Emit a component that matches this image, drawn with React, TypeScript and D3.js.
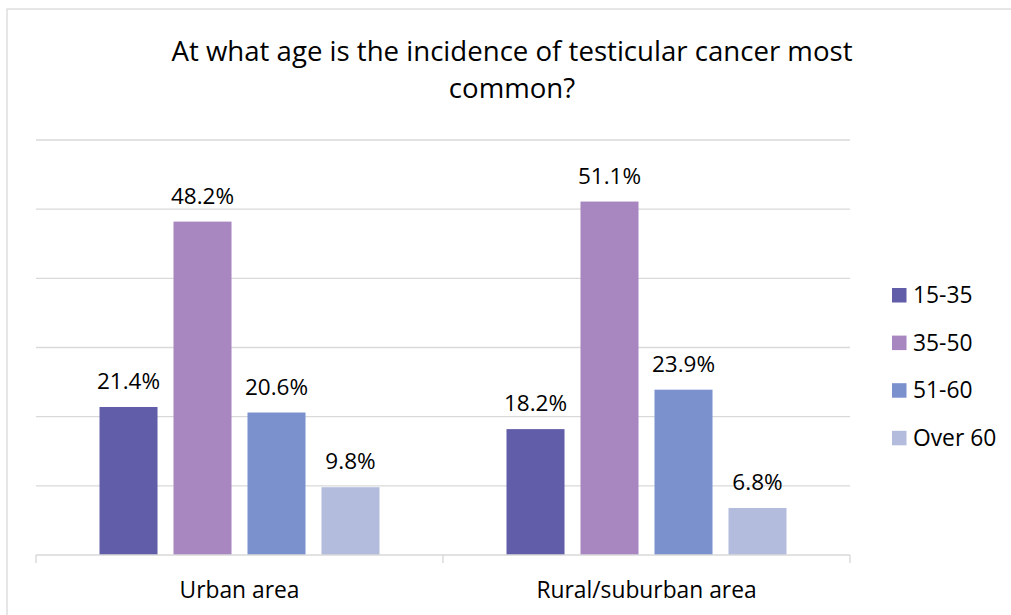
import React from "react";
import * as d3 from "d3";

const categories = ["Urban area", "Rural/suburban area"];
const seriesNames = ["15-35", "35-50", "51-60", "Over 60"];
const urbanValues = [21.4, 48.2, 20.6, 9.8];
const ruralValues = [18.2, 51.1, 23.9, 6.8];
const seriesColors = ["#625DA8", "#A886BF", "#7A91CE", "#B3BCDD"];
const gridTicks = [10, 20, 30, 40, 50, 60];
const titleLines = ["At what age is the incidence of testicular cancer most", "common?"];

const W = 1011;
const H = 615;
const FONT = "'Open Sans', 'Noto Sans', sans-serif";

export default function App() {
  const valuesByCat = [urbanValues, ruralValues];
  const x0 = d3.scaleBand<string>().domain(categories).range([36, 850]).padding(0);
  const inner = x0.bandwidth();
  const x1 = d3
    .scaleBand<string>()
    .domain(seriesNames)
    .range([63.5, inner - 63.5])
    .paddingInner(0.216)
    .paddingOuter(0);
  const y = d3.scaleLinear().domain([0, 60]).range([555, 140]);

  return (
    <svg
      width={W}
      height={H}
      style={{ position: "absolute", left: 0, top: 0, background: "#fff" }}
      fontFamily={FONT}
    >
      <rect x={7} y={9} width={W + 10} height={H + 10} fill="#fff" stroke="#D9D9D9" strokeWidth={1.3} />
      {titleLines.map((t, i) => (
        <text key={i} x={512} y={61 + i * 37} textAnchor="middle" fontSize={27.6} fill="#000">
          {t}
        </text>
      ))}
      {gridTicks.map((t) => (
        <line key={t} x1={36} x2={850} y1={y(t)} y2={y(t)} stroke="#D9D9D9" strokeWidth={1.4} />
      ))}
      {categories.map((c, ci) => (
        <g key={c} transform={`translate(${x0(c)},0)`}>
          {seriesNames.map((s, si) => {
            const v = valuesByCat[ci][si];
            return (
              <g key={s}>
                <rect
                  x={x1(s)}
                  y={y(v)}
                  width={x1.bandwidth()}
                  height={y(0) - y(v)}
                  fill={seriesColors[si]}
                />
                <text
                  x={(x1(s) as number) + x1.bandwidth() / 2}
                  y={y(v) - 18}
                  textAnchor="middle"
                  fontSize={22.5}
                  fill="#000"
                >
                  {v.toFixed(1)}%
                </text>
              </g>
            );
          })}
          <text x={inner / 2} y={598} textAnchor="middle" fontSize={22.8} fill="#000">
            {c}
          </text>
        </g>
      ))}
      <line x1={36} x2={850} y1={y(0)} y2={y(0)} stroke="#D9D9D9" strokeWidth={1.4} />
      {[36, 36 + inner, 850].map((tx, i) => (
        <line key={i} x1={tx} x2={tx} y1={y(0)} y2={y(0) + 8} stroke="#D9D9D9" strokeWidth={1.4} />
      ))}
      {seriesNames.map((s, i) => (
        <g key={s} transform={`translate(892,${288 + i * 47.6})`}>
          <rect x={0} y={0} width={14.5} height={14.5} fill={seriesColors[i]} />
          <text x={21} y={15} fontSize={22.8} fill="#000">
            {s}
          </text>
        </g>
      ))}
    </svg>
  );
}
